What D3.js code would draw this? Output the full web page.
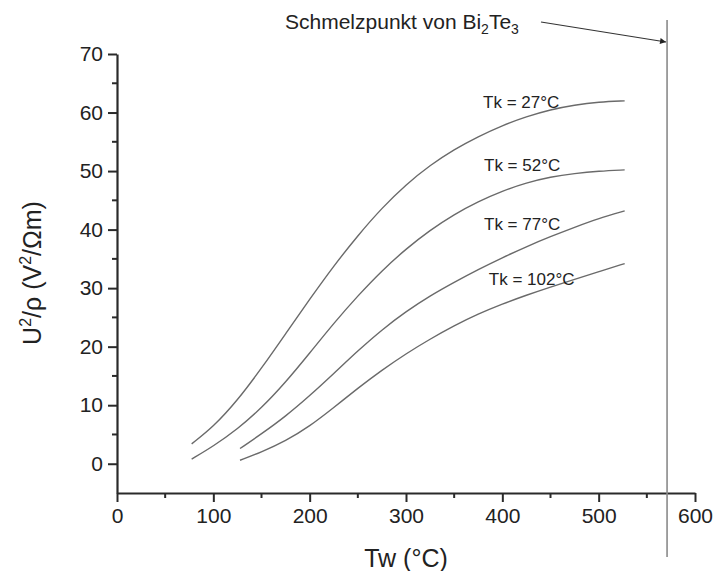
<!DOCTYPE html>
<html>
<head>
<meta charset="utf-8">
<script src="https://cdn.jsdelivr.net/npm/d3@7"></script>
<style>
  body { margin: 0; background: #fff; }
  svg text { font-family: "Liberation Sans", Arial, sans-serif; fill: #222; }
</style>
</head>
<body>
<div id="chart"></div>
<script>
// Tw values (°C) and U²/ρ values, one pair of arrays per curve
const tw27 = [77.5, 100, 125, 150, 175, 200, 225, 250, 275, 300, 325, 350, 375, 400, 425, 450, 475, 500, 527];
const u27  = [3.4, 6.3, 10.8, 16.3, 22.2, 28.1, 33.8, 39.0, 43.7, 47.7, 51.0, 53.7, 55.9, 57.8, 59.3, 60.5, 61.3, 61.8, 62.0];

const tw52 = [77.5, 100, 125, 150, 175, 200, 225, 250, 275, 300, 325, 350, 375, 400, 425, 450, 475, 500, 527];
const u52  = [0.8, 3.0, 5.9, 9.5, 13.9, 18.9, 24.0, 28.7, 33.0, 36.7, 39.9, 42.6, 44.8, 46.6, 48.0, 49.0, 49.6, 50.0, 50.2];

const tw77 = [127.7, 150, 175, 200, 225, 250, 275, 300, 325, 350, 375, 400, 425, 450, 475, 500, 527];
const u77  = [2.6, 5.1, 8.1, 11.6, 15.4, 19.3, 22.9, 26.0, 28.7, 31.0, 33.2, 35.2, 37.1, 38.8, 40.4, 41.9, 43.2];

const tw102 = [127.7, 150, 175, 200, 225, 250, 275, 300, 325, 350, 375, 400, 425, 450, 475, 500, 527];
const u102  = [0.6, 2.0, 3.9, 6.4, 9.6, 12.9, 16.0, 18.8, 21.3, 23.6, 25.6, 27.3, 28.8, 30.2, 31.5, 32.8, 34.2];

const curveLabels = ["Tk = 27°C", "Tk = 52°C", "Tk = 77°C", "Tk = 102°C"];
// where each label sits, in data units
const labelTw = [380, 381, 381, 386];
const labelU  = [60.8, 50.0, 40.0, 30.6];

const xTicks = [0, 100, 200, 300, 400, 500, 600];
const yTicks = [0, 10, 20, 30, 40, 50, 60, 70];
const meltTw = 571;

const width = 715;
const height = 571;

const svg = d3.select("#chart")
  .append("svg")
  .attr("width", width)
  .attr("height", height);

const x = d3.scaleLinear().domain([0, 600]).range([117, 695]);
const y = d3.scaleLinear().domain([-5, 70]).range([493, 54]);

// axes
const xAxis = d3.axisBottom(x).tickValues(xTicks).tickSize(9).tickPadding(6).tickSizeOuter(0);
const yAxis = d3.axisLeft(y).tickValues(yTicks).tickSize(9).tickPadding(5).tickSizeOuter(0);

const gx = svg.append("g")
  .attr("transform", `translate(0, ${y(-5)})`)
  .call(xAxis);
const gy = svg.append("g")
  .attr("transform", `translate(${x(0)}, 0)`)
  .call(yAxis);

[gx, gy].forEach(g => {
  g.select(".domain").attr("stroke", "#2a2a2a").attr("stroke-width", 2.2);
  g.selectAll(".tick line").attr("stroke", "#2a2a2a").attr("stroke-width", 2);
  g.selectAll(".tick text").attr("font-size", 21).attr("fill", "#222")
    .style("font-family", "'Liberation Sans', Arial, sans-serif");
});

// minor ticks
const xMinor = d3.range(50, 600, 100);
const yMinor = d3.range(-5, 70, 10).filter(v => v > -5);
svg.append("g")
  .selectAll("line")
  .data(xMinor)
  .enter()
  .append("line")
  .attr("x1", d => x(d)).attr("x2", d => x(d))
  .attr("y1", y(-5)).attr("y2", y(-5) + 5)
  .attr("stroke", "#2a2a2a").attr("stroke-width", 2);
svg.append("g")
  .selectAll("line")
  .data(yMinor)
  .enter()
  .append("line")
  .attr("x1", x(0) - 5).attr("x2", x(0))
  .attr("y1", d => y(d)).attr("y2", d => y(d))
  .attr("stroke", "#2a2a2a").attr("stroke-width", 2);

// curves
const series = [[tw27, u27], [tw52, u52], [tw77, u77], [tw102, u102]];
const line = d3.line()
  .x(d => x(d[0]))
  .y(d => y(d[1]))
  .curve(d3.curveBasis);

svg.append("g")
  .selectAll("path")
  .data(series)
  .enter()
  .append("path")
  .attr("d", s => line(d3.zip(s[0], s[1])))
  .attr("fill", "none")
  .attr("stroke", "#6a6a6a")
  .attr("stroke-width", 1.4);

svg.append("g")
  .selectAll("text")
  .data(curveLabels)
  .enter()
  .append("text")
  .attr("x", (d, i) => x(labelTw[i]))
  .attr("y", (d, i) => y(labelU[i]))
  .attr("font-size", 17)
  .text(d => d);

// melting point line with annotation
svg.append("line")
  .attr("x1", x(meltTw)).attr("x2", x(meltTw))
  .attr("y1", 20).attr("y2", 557)
  .attr("stroke", "#8a8a8a")
  .attr("stroke-width", 1.6);

svg.append("defs").append("marker")
  .attr("id", "arrow")
  .attr("viewBox", "0 0 10 10")
  .attr("refX", 10).attr("refY", 5)
  .attr("markerWidth", 9).attr("markerHeight", 6)
  .attr("markerUnits", "userSpaceOnUse")
  .attr("orient", "auto")
  .append("path")
  .attr("d", "M0,0 L10,5 L0,10 Z")
  .attr("fill", "#222");

const ann = svg.append("text")
  .attr("x", 285)
  .attr("y", 29)
  .attr("font-size", 21);
ann.append("tspan").text("Schmelzpunkt von Bi");
ann.append("tspan").attr("font-size", 14).attr("dy", 5).text("2");
ann.append("tspan").attr("dy", -5).text("Te");
ann.append("tspan").attr("font-size", 14).attr("dy", 5).text("3");

svg.append("line")
  .attr("x1", 541).attr("y1", 22)
  .attr("x2", x(meltTw) - 1).attr("y2", 42)
  .attr("stroke", "#333")
  .attr("stroke-width", 1.2)
  .attr("marker-end", "url(#arrow)");

// axis titles
svg.append("text")
  .attr("x", (x(0) + x(600)) / 2)
  .attr("y", 567)
  .attr("text-anchor", "middle")
  .attr("font-size", 25)
  .text("Tw (°C)");

const yt = svg.append("text")
  .attr("transform", `translate(41, 273) rotate(-90)`)
  .attr("text-anchor", "middle")
  .attr("font-size", 25);
yt.append("tspan").text("U");
yt.append("tspan").attr("font-size", 16).attr("dy", -10).text("2");
yt.append("tspan").attr("dy", 10).text("/ρ (V");
yt.append("tspan").attr("font-size", 16).attr("dy", -10).text("2");
yt.append("tspan").attr("dy", 10).text("/Ωm)");
</script>
</body>
</html>
